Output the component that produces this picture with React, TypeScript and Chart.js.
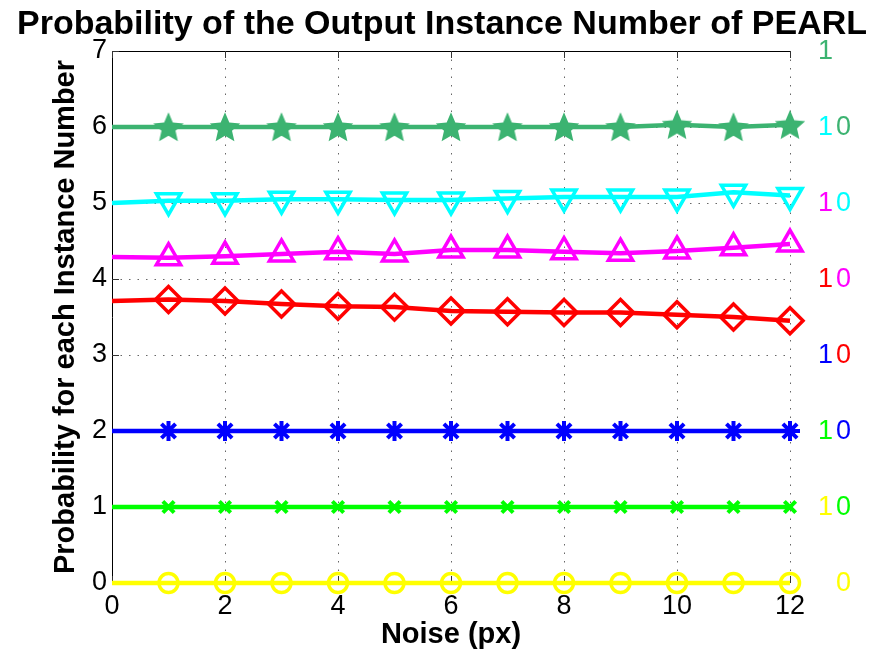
import { useEffect, useRef } from 'react';
import { Chart, registerables } from 'chart.js';

Chart.register(...registerables);

// ---- data ----
const noiseLevels = [0, 1, 2, 3, 4, 5, 6, 7, 8, 9, 10, 11, 12];

const series0 = [0, 0, 0, 0, 0, 0, 0, 0, 0, 0, 0, 0, 0];
const series1 = [1, 1, 1, 1, 1, 1, 1, 1, 1, 1, 1, 1, 1];
const series2 = [2, 2, 2, 2, 2, 2, 2, 2, 2, 2, 2, 2, 2];
const series3 = [3.71, 3.73, 3.71, 3.67, 3.64, 3.63, 3.58, 3.57, 3.56, 3.56, 3.53, 3.5, 3.45];
const series4 = [4.29, 4.28, 4.3, 4.33, 4.36, 4.33, 4.38, 4.38, 4.36, 4.34, 4.37, 4.41, 4.46];
const series5 = [5.0, 5.03, 5.03, 5.05, 5.05, 5.04, 5.04, 5.06, 5.08, 5.08, 5.08, 5.14, 5.1];
const series6 = [6.0, 6.0, 6.0, 6.0, 6.0, 6.0, 6.0, 6.0, 6.0, 6.0, 6.03, 6.0, 6.03];

const allSeries = [series0, series1, series2, series3, series4, series5, series6];
const seriesBase = [0, 1, 2, 3, 4, 5, 6];

const xMin = 0;
const xMax = 12;
const xStep = 2;
const yMin = 0;
const yMax = 7;
const yStep = 1;

const upperDigit = '1';
const lowerDigit = '0';

const titleText = 'Probability of the Output Instance Number of PEARL';
const xTitleText = 'Noise (px)';
const yTitleText = 'Probability for each Instance Number';

// ---- styles ----
const FONT = '"Liberation Sans", Arial, Helvetica, sans-serif';
const W = 875;
const H = 657;
const PLOT_LEFT = 112;
const PLOT_RIGHT = 790;
const PLOT_TOP = 51;
const PLOT_BOTTOM = 583;

type MarkerStyle = {
  color: string;
  pointStyle: any;
  radius: number;
  pointBorderWidth: number;
  rotation?: number;
};

function makePentagram(size: number, color: string): HTMLCanvasElement {
  const c = document.createElement('canvas');
  c.width = size;
  c.height = size;
  const g = c.getContext('2d')!;
  const cx = size / 2;
  const cy = size / 2 + size * 0.04;
  const outer = size / 2 - 1;
  const inner = outer * 0.46;
  g.beginPath();
  for (let k = 0; k < 10; k++) {
    const a = -Math.PI / 2 + (k * Math.PI) / 5;
    const r = k % 2 === 0 ? outer : inner;
    const px = cx + r * Math.cos(a);
    const py = cy + r * Math.sin(a);
    if (k === 0) g.moveTo(px, py);
    else g.lineTo(px, py);
  }
  g.closePath();
  g.fillStyle = color;
  g.fill();
  return c;
}

const seriesColors = ['#ffff00', '#00ff00', '#0000ff', '#ff0000', '#ff00ff', '#00ffff', '#3cb371'];

export default function App() {
  const canvasRef = useRef<HTMLCanvasElement | null>(null);

  useEffect(() => {
    const canvas = canvasRef.current;
    if (!canvas) return;

    const markers: MarkerStyle[] = [
      { color: seriesColors[0], pointStyle: 'circle', radius: 9.5, pointBorderWidth: 3.5 },
      { color: seriesColors[1], pointStyle: 'crossRot', radius: 8, pointBorderWidth: 4 },
      { color: seriesColors[2], pointStyle: 'star', radius: 10, pointBorderWidth: 4 },
      { color: seriesColors[3], pointStyle: 'rectRot', radius: 13, pointBorderWidth: 3.5 },
      { color: seriesColors[4], pointStyle: 'triangle', radius: 14, pointBorderWidth: 3.5 },
      { color: seriesColors[5], pointStyle: 'triangle', radius: 14, pointBorderWidth: 3.5, rotation: 180 },
      { color: seriesColors[6], pointStyle: makePentagram(34, seriesColors[6]), radius: 16, pointBorderWidth: 0 },
    ];

    const datasets = allSeries.map((values, i) => {
      const m = markers[i];
      return {
        label: String(seriesBase[i]),
        data: noiseLevels.map((x, j) => ({ x, y: values[j] })),
        borderColor: m.color,
        backgroundColor: m.color,
        borderWidth: 4.5,
        tension: 0,
        clip: false as const,
        pointStyle: m.pointStyle,
        rotation: m.rotation ?? 0,
        pointRadius: (ctx: any) => (ctx.dataIndex === 0 ? 0 : m.radius),
        pointHoverRadius: (ctx: any) => (ctx.dataIndex === 0 ? 0 : m.radius),
        pointBorderColor: m.color,
        pointBackgroundColor: 'rgba(0,0,0,0)',
        pointBorderWidth: m.pointBorderWidth,
      };
    });

    // title, axes frame, inward ticks and the digit labels on the right
    const framePlugin = {
      id: 'frame',
      beforeDatasetsDraw(chart: any) {
        const { ctx, chartArea } = chart;
        const { left, right, top, bottom } = chartArea;
        const xs = chart.scales.x;
        const ys = chart.scales.y;
        ctx.save();
        ctx.strokeStyle = '#000';
        ctx.lineWidth = 1;
        ctx.setLineDash([]);
        ctx.beginPath();
        ctx.moveTo(left + 0.5, top);
        ctx.lineTo(left + 0.5, bottom + 1);
        ctx.moveTo(left, bottom + 0.5);
        ctx.lineTo(right, bottom + 0.5);
        ctx.moveTo(left, top + 0.5);
        ctx.lineTo(right, top + 0.5);
        ctx.stroke();
        ctx.strokeStyle = '#333';
        ctx.beginPath();
        xs.ticks.forEach((t: any) => {
          const px = Math.round(xs.getPixelForValue(t.value)) + 0.5;
          ctx.moveTo(px, bottom);
          ctx.lineTo(px, bottom - 7);
          ctx.moveTo(px, top);
          ctx.lineTo(px, top + 7);
        });
        ys.ticks.forEach((t: any) => {
          const py = Math.round(ys.getPixelForValue(t.value)) + 0.5;
          ctx.moveTo(left, py);
          ctx.lineTo(left + 7, py);
        });
        ctx.stroke();
        ctx.restore();
      },
      afterDatasetsDraw(chart: any) {
        const { ctx, chartArea } = chart;
        const ys = chart.scales.y;
        ctx.save();
        ctx.font = `27px ${FONT}`;
        ctx.textAlign = 'left';
        ctx.textBaseline = 'middle';
        seriesBase.forEach((b, i) => {
          ctx.fillStyle = seriesColors[i];
          ctx.fillText(lowerDigit, chartArea.right + 46, ys.getPixelForValue(b) + 1);
          ctx.fillText(upperDigit, chartArea.right + 28, ys.getPixelForValue(b + 1) + 1);
        });
        ctx.font = `bold 34px ${FONT}`;
        ctx.textAlign = 'center';
        ctx.textBaseline = 'alphabetic';
        ctx.fillStyle = '#000';
        ctx.fillText(titleText, 442, 34);
        ctx.restore();
      },
    };

    const gridColor = 'rgba(0,0,0,0.6)';

    const chart = new Chart(canvas, {
      type: 'line',
      data: { datasets: datasets as any },
      plugins: [framePlugin],
      options: {
        animation: false,
        responsive: false,
        devicePixelRatio: 1,
        layout: { padding: { left: 0, right: W - PLOT_RIGHT, top: PLOT_TOP, bottom: 0 } },
        plugins: {
          legend: { display: false },
          tooltip: { enabled: false },
          title: { display: false },
        },
        scales: {
          x: {
            type: 'linear',
            min: xMin,
            max: xMax,
            afterFit: (s: any) => {
              s.height = H - PLOT_BOTTOM;
            },
            ticks: {
              stepSize: xStep,
              color: '#000',
              font: { family: FONT, size: 27 },
              padding: 7,
              maxRotation: 0,
            },
            grid: {
              drawTicks: false,
              color: (ctx: any) => (ctx.tick && ctx.tick.value === xMin ? 'rgba(0,0,0,0)' : gridColor),
              lineWidth: 1,
              borderDash: [1.5, 7],
            } as any,
            border: { display: false, dash: [1.5, 7] } as any,
            title: {
              display: true,
              text: xTitleText,
              color: '#000',
              font: { family: FONT, size: 29, weight: 'bold', lineHeight: 1.2 },
              padding: { top: 0, bottom: 5 },
            },
          },
          y: {
            type: 'linear',
            min: yMin,
            max: yMax,
            afterFit: (s: any) => {
              s.width = PLOT_LEFT;
            },
            ticks: {
              stepSize: yStep,
              color: '#000',
              font: { family: FONT, size: 27 },
              padding: 5,
            },
            grid: {
              drawTicks: false,
              color: (ctx: any) =>
                ctx.tick && (ctx.tick.value === yMin || ctx.tick.value === yMax) ? 'rgba(0,0,0,0)' : gridColor,
              lineWidth: 1,
              borderDash: [1.5, 7],
            } as any,
            border: { display: false, dash: [1.5, 7] } as any,
            title: {
              display: true,
              text: yTitleText,
              color: '#000',
              font: { family: FONT, size: 29, weight: 'bold', lineHeight: 1.2 },
              padding: { top: 49, bottom: 0 },
            },
          },
        },
      },
    });

    return () => {
      chart.destroy();
    };
  }, []);

  return (
    <div style={{ position: 'absolute', left: 0, top: 0, width: W, height: H, background: '#fff' }}>
      <canvas ref={canvasRef} width={W} height={H} style={{ display: 'block' }} />
    </div>
  );
}
